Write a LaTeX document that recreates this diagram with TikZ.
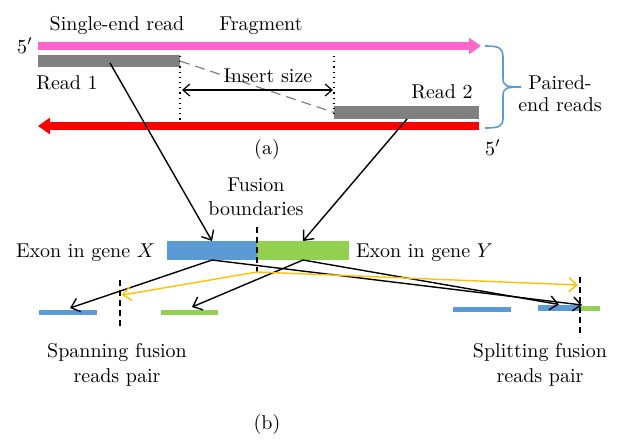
\documentclass[tikz,border=0pt]{standalone}
\usetikzlibrary{arrows.meta}
\definecolor{mypink}{RGB}{255,102,204}
\definecolor{myred}{RGB}{255,0,0}
\definecolor{mygray}{RGB}{128,128,128}
\definecolor{myblue}{RGB}{91,155,213}
\definecolor{mygreen}{RGB}{146,208,80}
\definecolor{myyellow}{RGB}{255,192,0}
\begin{document}
\begin{tikzpicture}[x=0.5pt,y=-0.5pt,
  lbl/.style={inner sep=0pt, outer sep=0pt, anchor=base, font=\fontsize{10}{12}\selectfont},
  mlbl/.style={inner sep=0pt, outer sep=0pt, anchor=north, align=center},
  bar/.style={draw=none, inner sep=0pt, outer sep=0pt, rectangle},
  conn/.style={line width=0.7pt, -{Straight Barb[length=4pt,width=7pt]}},
  yconn/.style={conn, draw=myyellow},
  vdash/.style={line width=0.7pt, dash pattern=on 3pt off 2pt},
]
\useasboundingbox (0,0) rectangle (620,447);

% ---------- part (a) ----------
\coordinate (pinkS) at (38,46);
\coordinate (pinkE) at (481,46);
\draw[draw=mypink, line width=4pt, -{Triangle[length=6pt,width=8pt]}] (pinkS) -- (pinkE);

\coordinate (redS) at (479,126);
\coordinate (redE) at (38,126);
\draw[draw=myred, line width=4pt, -{Triangle[length=6pt,width=8pt]}] (redS) -- (redE);

\node[bar, fill=mygray, minimum width=71pt, minimum height=6pt] (read1) at (109,61) {};
\node[bar, fill=mygray, minimum width=72.5pt, minimum height=6.5pt] (read2) at (406.5,112.5) {};

\coordinate (d1t) at (180,56);
\coordinate (d1b) at (180,121);
\coordinate (d2t) at (334,56);
\coordinate (d2b) at (334,117);
\draw[dotted, line width=0.6pt] (d1t) -- (d1b);
\draw[dotted, line width=0.6pt] (d2t) -- (d2b);

\draw[mygray, line width=0.6pt, dash pattern=on 5pt off 3pt] (read1.east) -- (read2.west);

\coordinate (ins1) at (182,90);
\coordinate (ins2) at (333,90);
\draw[line width=0.6pt, {Straight Barb[length=3.5pt,width=6pt]}-{Straight Barb[length=3.5pt,width=6pt]}] (ins1) -- (ins2);

\node[lbl] (tSingle) at (117,30) {Single-end read};
\node[lbl] (tFrag) at (261,30) {Fragment};
\node[lbl] (t5a) at (25,53) {$5'$};
\node[lbl] (tR1) at (67,89) {Read 1};
\node[lbl] (tIns) at (268,82) {Insert size};
\node[lbl] (tR2) at (442,98) {Read 2};
\node[lbl] (t5b) at (493,155) {$5'$};
\node[lbl] (ta) at (267,154) {(a)};

\draw[myblue, line width=0.8pt] (485,46) .. controls (500,46) and (503,48) .. (503,58)
  -- (503,78) .. controls (503,86) and (506,87) .. (521,87)
  .. controls (506,87) and (503,88) .. (503,96)
  -- (503,118) .. controls (503,126) and (500,128) .. (485,128);
\node[mlbl, font=\fontsize{10}{11}\selectfont] (tPE) at (560,76) {Paired-\\end reads};

% ---------- part (b) ----------
\node[mlbl, font=\fontsize{10}{12}\selectfont] (tFB) at (256,178) {Fusion\\boundaries};

\node[bar, fill=myblue, minimum width=45pt, minimum height=9.5pt] (exX) at (212,250.5) {};
\node[bar, fill=mygreen, minimum width=46pt, minimum height=9.5pt] (exY) at (303,250.5) {};
\coordinate (fbT) at (257,227);
\coordinate (fbB) at (257,272);
\draw[vdash] (fbT) -- (fbB);

\node[lbl, anchor=base east] (tX) at (155,257) {Exon in gene $X$};
\node[lbl, anchor=base west] (tY) at (356,257) {Exon in gene $Y$};

\coordinate (r1p) at (110,63);
\coordinate (r2p) at (407,119);
\draw[conn] (r1p) -- (exX.north);
\draw[conn] (r2p) -- (exY.north);

\node[bar, fill=myblue, minimum width=29pt, minimum height=2.5pt] (spanB) at (68,312) {};
\node[bar, fill=mygreen, minimum width=28.5pt, minimum height=2.5pt] (spanG) at (189.5,312) {};
\node[bar, fill=myblue, minimum width=29pt, minimum height=2.5pt] (splitB1) at (482,309.5) {};
\node[bar, fill=myblue, minimum width=21pt, minimum height=3pt] (splitB2) at (559,307.5) {};
\node[bar, fill=mygreen, minimum width=10pt, minimum height=2.5pt] (splitG) at (590,308.5) {};

\coordinate (v1t) at (120,280);
\coordinate (v1b) at (120,327);
\coordinate (v2t) at (580,277);
\coordinate (v2b) at (580,337);
\draw[vdash] (v1t) -- (v1b);
\draw[vdash] (v2t) -- (v2b);

\coordinate (splitTip) at (582,305);
\draw[conn] (exX.south) -- (70,308) coordinate (spanTipB);
\draw[conn] (exY.south) -- (192,307) coordinate (spanTipG);
\draw[conn] (exX.south) -- (splitTip);
\draw[conn] (exY.south) -- (splitB2.north);

\coordinate (yl) at (122,295);
\coordinate (yr) at (578,285);
\draw[yconn] (fbB) -- (yl);
\draw[yconn] (fbB) -- (yr);

\node[mlbl, font=\fontsize{10}{12.5}\selectfont] (tSpan) at (117,343) {Spanning fusion\\reads pair};
\node[mlbl, font=\fontsize{10}{12.5}\selectfont] (tSplit) at (540,343) {Splitting fusion\\reads pair};
\node[lbl] (tb) at (267,429) {(b)};
\end{tikzpicture}
\end{document}
